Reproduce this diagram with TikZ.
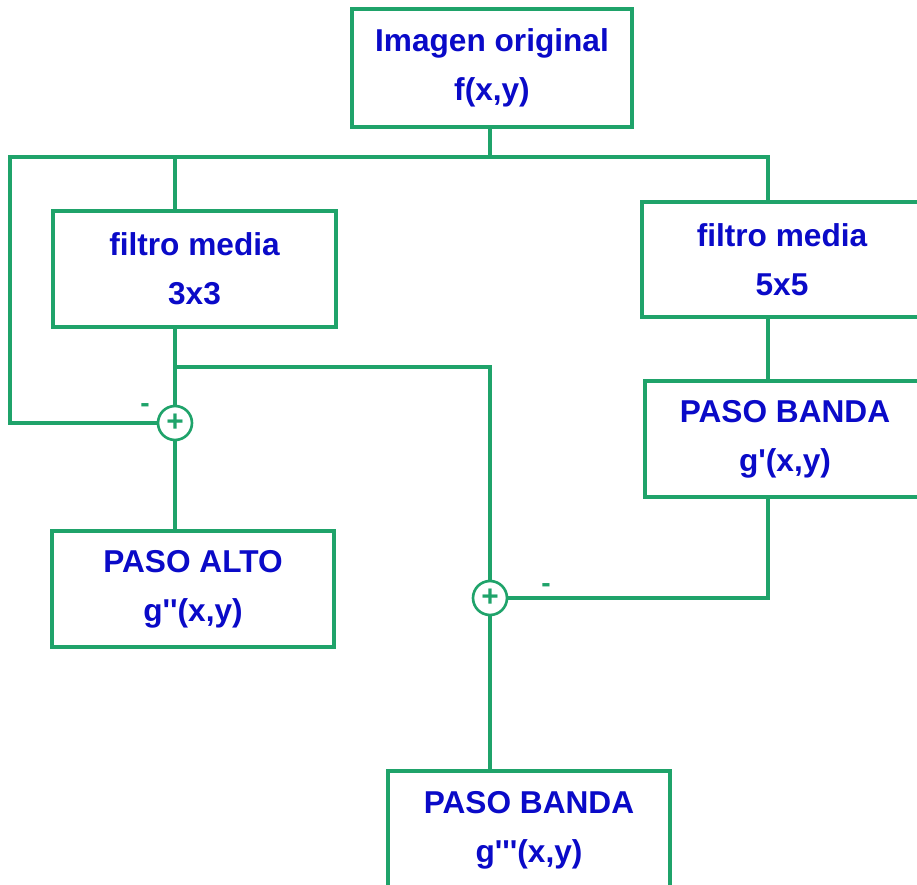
\documentclass[tikz,border=0pt]{standalone}
\usepackage{fontspec}
\newfontfamily\boxfont{Liberation Sans}
\usepackage{xcolor}
\usetikzlibrary{positioning,calc}
\definecolor{lgreen}{HTML}{1FA36A}
\definecolor{tblue}{HTML}{0A0AC8}
\tikzset{
 box/.style={draw=lgreen,line width=1.9pt,align=center,inner sep=0pt,
   minimum width=5.6cm,minimum height=2.32cm,text=tblue,
   font=\boxfont\fontsize{18}{28}\selectfont\bfseries,fill=white},
 wire/.style={line width=1.9pt,draw=lgreen},
 sum/.style={circle,draw=lgreen,line width=1.5pt,minimum size=0.68cm,inner sep=0pt,
   text=lgreen,font=\boxfont\fontsize{17}{17}\selectfont\bfseries,fill=white},
 sign/.style={text=lgreen,font=\boxfont\fontsize{16}{16}\selectfont\bfseries,inner sep=0pt}
}
\begin{document}
\begin{tikzpicture}[x=0.02cm,y=-0.02cm]
 \useasboundingbox[fill=white] (0,0) rectangle (917,885);
 \node[box,minimum height=2.36cm] (orig) at (492,68) {Imagen original\\f(x,y)};
 \node[box,minimum width=5.66cm] (m3) at (194.5,269) {filtro media\\3x3};
 \node[box,minimum height=2.3cm] (m5) at (782,259.5) {filtro media\\5x5};
 \node[box] (bandaR) at (785,439) {PASO BANDA\\g'(x,y)};
 \node[box,minimum width=5.64cm] (alto) at (193,589) {PASO ALTO\\g''(x,y)};
 \node[box,minimum width=5.64cm,minimum height=2.36cm] (bandaB) at (529,830) {PASO BANDA\\g'''(x,y)};
 \node[sum] (sumA) at (175,423) {+};
 \node[sum] (sumB) at (490,598) {+};
 \node[sign] (menosA) at (145,408) {-};
 \node[sign] (menosB) at (546,588) {-};
 \coordinate (bus) at (490,157);
 \coordinate (ret) at (10,157);
 \coordinate (tap) at (175,367);
 \coordinate (colA) at (175,0);
 \coordinate (colC) at (768,0);
 \draw[wire] (orig.south -| bus) -- (bus);
 \draw[wire] (sumA.west) -| (ret) -| (m5.north -| colC);
 \draw[wire] (colA |- ret) -- (m3.north -| colA);
 \draw[wire] (m3.south -| colA) -- (sumA.north);
 \draw[wire] (tap) -| (sumB.north);
 \draw[wire] (sumA.south) -- (alto.north -| colA);
 \draw[wire] (m5.south -| colC) -- (bandaR.north -| colC);
 \draw[wire] (bandaR.south -| colC) |- (sumB.east);
 \draw[wire] (sumB.south) -- (bandaB.north -| sumB);
\end{tikzpicture}
\end{document}
